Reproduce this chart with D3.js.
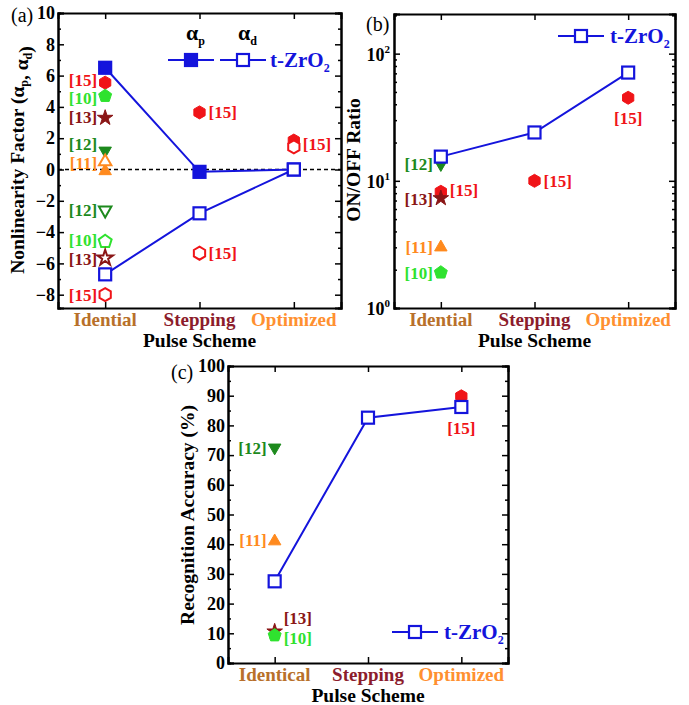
<!DOCTYPE html>
<html>
<head>
<meta charset="utf-8">
<script src="https://cdn.jsdelivr.net/npm/d3@7"></script>
<style>
  body { margin: 0; background: #fff; }
  svg { font-family: "Liberation Serif", "Times New Roman", serif; font-weight: bold; }
</style>
</head>
<body>
<div id="chart"></div>
<script>
// ---- data ----
const schemesAB = ["Idential", "Stepping", "Optimized"];
const schemesC = ["Identical", "Stepping", "Optimized"];

const alphaP = [6.5, -0.15, 0];
const alphaD = [-6.7, -2.8, 0];
const onOffRatio = [15.5, 24, 71];
const accuracy = [27.5, 82.6, 86.2];

const ticksA = [-8, -6, -4, -2, 0, 2, 4, 6, 8, 10];
const ticksB = [1, 10, 100];
const ticksC = [0, 10, 20, 30, 40, 50, 60, 70, 80, 90, 100];

// literature points: scheme index (1..3), value, filled or open marker
const litA = [
  { ref: "[15]", scheme: 1, value: 5.55, filled: true },
  { ref: "[10]", scheme: 1, value: 4.7, filled: true },
  { ref: "[13]", scheme: 1, value: 3.3, filled: true },
  { ref: "[12]", scheme: 1, value: 1.2, filled: true },
  { ref: "[11]", scheme: 1, value: -0.1, filled: true },
  { ref: "[11]", scheme: 1, value: 0.5, filled: false },
  { ref: "[12]", scheme: 1, value: -2.6, filled: false },
  { ref: "[10]", scheme: 1, value: -4.6, filled: false },
  { ref: "[13]", scheme: 1, value: -5.65, filled: false },
  { ref: "[15]", scheme: 1, value: -8.0, filled: false },
  { ref: "[15]", scheme: 2, value: 3.65, filled: true },
  { ref: "[15]", scheme: 2, value: -5.35, filled: false },
  { ref: "[15]", scheme: 3, value: 1.85, filled: true },
  { ref: "[15]", scheme: 3, value: 1.45, filled: false }
];
const litB = [
  { ref: "[12]", scheme: 1, value: 13.5, filled: true },
  { ref: "[15]", scheme: 1, value: 8.2, filled: true },
  { ref: "[13]", scheme: 1, value: 7.3, filled: true },
  { ref: "[11]", scheme: 1, value: 3.0, filled: true },
  { ref: "[10]", scheme: 1, value: 1.9, filled: true },
  { ref: "[15]", scheme: 2, value: 10, filled: true },
  { ref: "[15]", scheme: 3, value: 45, filled: true }
];
const litC = [
  { ref: "[12]", scheme: 1, value: 72.5, filled: true },
  { ref: "[11]", scheme: 1, value: 41, filled: true },
  { ref: "[13]", scheme: 1, value: 10.6, filled: true },
  { ref: "[10]", scheme: 1, value: 9.3, filled: true },
  { ref: "[15]", scheme: 3, value: 89.8, filled: true }
];

// reference labels: scheme, value where the label sits, side
const labelsA = [
  { text: "[15]", scheme: 1, value: 5.75, side: "left" },
  { text: "[10]", scheme: 1, value: 4.6, side: "left" },
  { text: "[13]", scheme: 1, value: 3.35, side: "left" },
  { text: "[12]", scheme: 1, value: 1.6, side: "left" },
  { text: "[11]", scheme: 1, value: 0.4, side: "left" },
  { text: "[12]", scheme: 1, value: -2.6, side: "left" },
  { text: "[10]", scheme: 1, value: -4.5, side: "left" },
  { text: "[13]", scheme: 1, value: -5.7, side: "left" },
  { text: "[15]", scheme: 1, value: -8.0, side: "left" },
  { text: "[15]", scheme: 2, value: 3.65, side: "right" },
  { text: "[15]", scheme: 2, value: -5.35, side: "right" },
  { text: "[15]", scheme: 3, value: 1.65, side: "right" }
];
const labelsB = [
  { text: "[12]", scheme: 1, value: 13.5, side: "left" },
  { text: "[15]", scheme: 1, value: 8.5, side: "right" },
  { text: "[13]", scheme: 1, value: 7.2, side: "left" },
  { text: "[11]", scheme: 1, value: 3.0, side: "left" },
  { text: "[10]", scheme: 1, value: 1.9, side: "left" },
  { text: "[15]", scheme: 2, value: 10, side: "right" },
  { text: "[15]", scheme: 3, value: 31, side: "below" }
];
const labelsC = [
  { text: "[12]", scheme: 1, value: 72.5, side: "left" },
  { text: "[11]", scheme: 1, value: 41.5, side: "left" },
  { text: "[13]", scheme: 1, value: 15, side: "right" },
  { text: "[10]", scheme: 1, value: 8.5, side: "right" },
  { text: "[15]", scheme: 3, value: 79, side: "below" }
];

const refStyle = {
  "[10]": { shape: "pentagon", color: "#2fe22f" },
  "[11]": { shape: "triUp", color: "#ff8a1e" },
  "[12]": { shape: "triDown", color: "#1d8a1d" },
  "[13]": { shape: "star", color: "#8a1616" },
  "[15]": { shape: "hexagon", color: "#f01418" }
};
const schemeColor = ["#b8702a", "#8c1c2c", "#ff9030"];
const blue = "#1414dc";

// ---- drawing ----
const svg = d3.select("#chart").append("svg")
    .attr("width", 689)
    .attr("height", 705);

function polygon(n, r, rot) {
  const pts = d3.range(n).map(i => {
    const a = rot + i * 2 * Math.PI / n;
    return [r * Math.cos(a), r * Math.sin(a)];
  });
  return "M" + pts.map(p => p.join(",")).join("L") + "Z";
}

function shapePath(shape) {
  switch (shape) {
    case "hexagon": return polygon(6, 6.5, -Math.PI / 2);
    case "pentagon": return polygon(5, 6.8, -Math.PI / 2);
    case "triUp": return polygon(3, 7.2, -Math.PI / 2);
    case "triDown": return polygon(3, 7.2, Math.PI / 2);
    case "star": return d3.symbol().type(d3.symbolStar).size(75)();
    default: return d3.symbol().type(d3.symbolSquare).size(100)();
  }
}

function panel(o) {
  const g = svg.append("g");
  const x = d3.scaleLinear().domain([0.5, 3.5]).range([o.left, o.right]);
  const y = (o.log ? d3.scaleLog() : d3.scaleLinear()).domain(o.domain).range([o.bottom, o.top]);

  // minor ticks
  const minorL = d3.axisLeft(y).tickValues(o.minor).tickSize(-3).tickFormat("");
  const minorR = d3.axisRight(y).tickValues(o.minor).tickSize(-3).tickFormat("");
  g.append("g").attr("transform", `translate(${o.left},0)`).call(minorL);
  g.append("g").attr("transform", `translate(${o.right},0)`).call(minorR);

  const left = g.append("g")
      .attr("transform", `translate(${o.left},0)`)
      .call(d3.axisLeft(y).tickValues(o.major).tickSize(-6).tickPadding(3)
        .tickFormat(o.log ? "" : d3.format("d")));
  left.selectAll("text").attr("font-size", 18).attr("fill", "#000")
      .attr("font-family", "Liberation Serif").attr("font-weight", "bold");

  if (o.log) {
    o.major.forEach(v => {
      const t = g.append("text")
          .attr("x", o.left - 4)
          .attr("y", y(v) + 7)
          .attr("text-anchor", "end")
          .attr("font-size", 18);
      t.append("tspan").text("10");
      t.append("tspan").attr("font-size", 11).attr("dy", -8).text(Math.round(Math.log10(v)));
    });
  }

  g.append("g").attr("transform", `translate(${o.right},0)`)
      .call(d3.axisRight(y).tickValues(o.major).tickSize(-6).tickFormat(""));
  g.append("g").attr("transform", `translate(0,${o.top})`)
      .call(d3.axisTop(x).tickValues([1, 2, 3]).tickSize(-6).tickFormat(""));
  g.append("g").attr("transform", `translate(0,${o.bottom})`)
      .call(d3.axisBottom(x).tickValues([1, 2, 3]).tickSize(-6).tickFormat(""));

  g.selectAll(".domain").attr("stroke", "#000").attr("stroke-width", 2);
  g.selectAll(".tick line").attr("stroke", "#000").attr("stroke-width", 1.5);

  // category labels
  o.categories.forEach((c, i) => {
    g.append("text")
        .attr("x", x(i + 1))
        .attr("y", o.bottom + 18)
        .attr("text-anchor", "middle")
        .attr("font-size", 19)
        .attr("fill", schemeColor[i])
        .text(c);
  });
  g.append("text")
      .attr("x", (o.left + o.right) / 2)
      .attr("y", o.bottom + 39)
      .attr("text-anchor", "middle")
      .attr("font-size", 19.5)
      .attr("fill", "#000")
      .text("Pulse Scheme");

  // panel letter
  g.append("text")
      .attr("x", o.letterX)
      .attr("y", o.letterY)
      .attr("font-size", 20)
      .attr("font-weight", "normal")
      .text(o.letter);

  return { g, x, y };
}

function drawLit(p, lit, labels) {
  lit.forEach(d => {
    const st = refStyle[d.ref];
    p.g.append("path")
        .attr("d", shapePath(st.shape))
        .attr("transform", `translate(${p.x(d.scheme)},${p.y(d.value)})`)
        .attr("fill", d.filled ? st.color : "#fff")
        .attr("stroke", st.color)
        .attr("stroke-width", d.filled ? 1 : 2);
  });
  labels.forEach(l => {
    const st = refStyle[l.text];
    const cx = p.x(l.scheme), cy = p.y(l.value);
    const t = p.g.append("text")
        .attr("font-size", 17)
        .attr("fill", st.color)
        .text(l.text);
    if (l.side === "left") {
      t.attr("x", cx - 8).attr("y", cy + 6).attr("text-anchor", "end");
    } else if (l.side === "right") {
      t.attr("x", cx + 9).attr("y", cy + 6).attr("text-anchor", "start");
    } else {
      t.attr("x", cx).attr("y", cy + 6).attr("text-anchor", "middle");
    }
  });
}

function drawSeries(p, values, filled) {
  const line = d3.line().x((d, i) => p.x(i + 1)).y(d => p.y(d));
  p.g.append("path")
      .attr("d", line(values))
      .attr("fill", "none")
      .attr("stroke", blue)
      .attr("stroke-width", 2);
  p.g.selectAll(null)
      .data(values)
      .enter()
      .append("rect")
      .attr("x", (d, i) => p.x(i + 1) - 6)
      .attr("y", d => p.y(d) - 6)
      .attr("width", 12)
      .attr("height", 12)
      .attr("fill", filled ? blue : "#fff")
      .attr("stroke", blue)
      .attr("stroke-width", 2.2);
}

function legendEntry(g, x0, y0, filled) {
  g.append("line")
      .attr("x1", x0).attr("x2", x0 + 46)
      .attr("y1", y0).attr("y2", y0)
      .attr("stroke", blue).attr("stroke-width", 2);
  g.append("rect")
      .attr("x", x0 + 23 - 6).attr("y", y0 - 6)
      .attr("width", 12).attr("height", 12)
      .attr("fill", filled ? blue : "#fff")
      .attr("stroke", blue).attr("stroke-width", 2.2);
}

function legendText(g, x0, y0) {
  const t = g.append("text")
      .attr("x", x0).attr("y", y0 + 7)
      .attr("font-size", 21)
      .attr("fill", blue);
  t.append("tspan").text("t-ZrO");
  t.append("tspan").attr("font-size", 12).attr("dy", 5).text("2");
}

function yTitle(g, cx, cy, parts) {
  const t = g.append("text")
      .attr("transform", `translate(${cx},${cy}) rotate(-90)`)
      .attr("text-anchor", "middle")
      .attr("font-size", 19.5)
      .attr("fill", "#000");
  parts.forEach(pt => {
    if (pt.sub) {
      t.append("tspan").attr("font-size", 12).attr("dy", 4).text(pt.sub);
      t.append("tspan").attr("dy", -4).text("");
    } else {
      t.append("tspan").text(pt.text);
    }
  });
}

// (a) nonlinearity
const pA = panel({
  left: 58, right: 341, top: 13, bottom: 308,
  domain: [-8.85, 10], major: ticksA,
  minor: d3.range(-8, 11, 1).filter(v => v % 2 !== 0),
  categories: schemesAB, letter: "(a)", letterX: 11, letterY: 22
});
pA.g.append("line")
    .attr("x1", 58).attr("x2", 341)
    .attr("y1", pA.y(0)).attr("y2", pA.y(0))
    .attr("stroke", "#000").attr("stroke-width", 1.3)
    .attr("stroke-dasharray", "4,3");
drawLit(pA, litA, labelsA);
drawSeries(pA, alphaP, true);
drawSeries(pA, alphaD, false);
legendEntry(pA.g, 168, 60, true);
legendEntry(pA.g, 220, 60, false);
legendText(pA.g, 270, 60);
[["p", 186], ["d", 238]].forEach(([s, xx]) => {
  const t = pA.g.append("text").attr("x", xx).attr("y", 40).attr("font-size", 22);
  t.append("tspan").text("α");
  t.append("tspan").attr("font-size", 12).attr("dy", 5).text(s);
});
yTitle(pA.g, 24, 160, [
  { text: "Nonlinearity Factor (α" }, { sub: "p" }, { text: ", α" }, { sub: "d" }, { text: ")" }
]);

// (b) ON/OFF ratio
const minorB = [];
[1, 10, 100].forEach(dec => d3.range(2, 10).forEach(m => { if (dec * m < 205) minorB.push(dec * m); }));
const pB = panel({
  left: 394, right: 675, top: 14, bottom: 308, log: true,
  domain: [1, 205], major: ticksB, minor: minorB,
  categories: schemesAB, letter: "(b)", letterX: 366, letterY: 31
});
drawLit(pB, litB, labelsB);
drawSeries(pB, onOffRatio, false);
legendEntry(pB.g, 558, 36, false);
legendText(pB.g, 610, 36);
yTitle(pB.g, 360, 160, [{ text: "ON/OFF Ratio" }]);

// (c) recognition accuracy
const pC = panel({
  left: 228, right: 508, top: 366, bottom: 663,
  domain: [0, 100], major: ticksC,
  minor: d3.range(5, 100, 10),
  categories: schemesC, letter: "(c)", letterX: 171, letterY: 379
});
drawLit(pC, litC, labelsC);
drawSeries(pC, accuracy, false);
legendEntry(pC.g, 392, 632, false);
legendText(pC.g, 444, 632);
yTitle(pC.g, 194, 515, [{ text: "Recognition Accuracy (%)" }]);
</script>
</body>
</html>
